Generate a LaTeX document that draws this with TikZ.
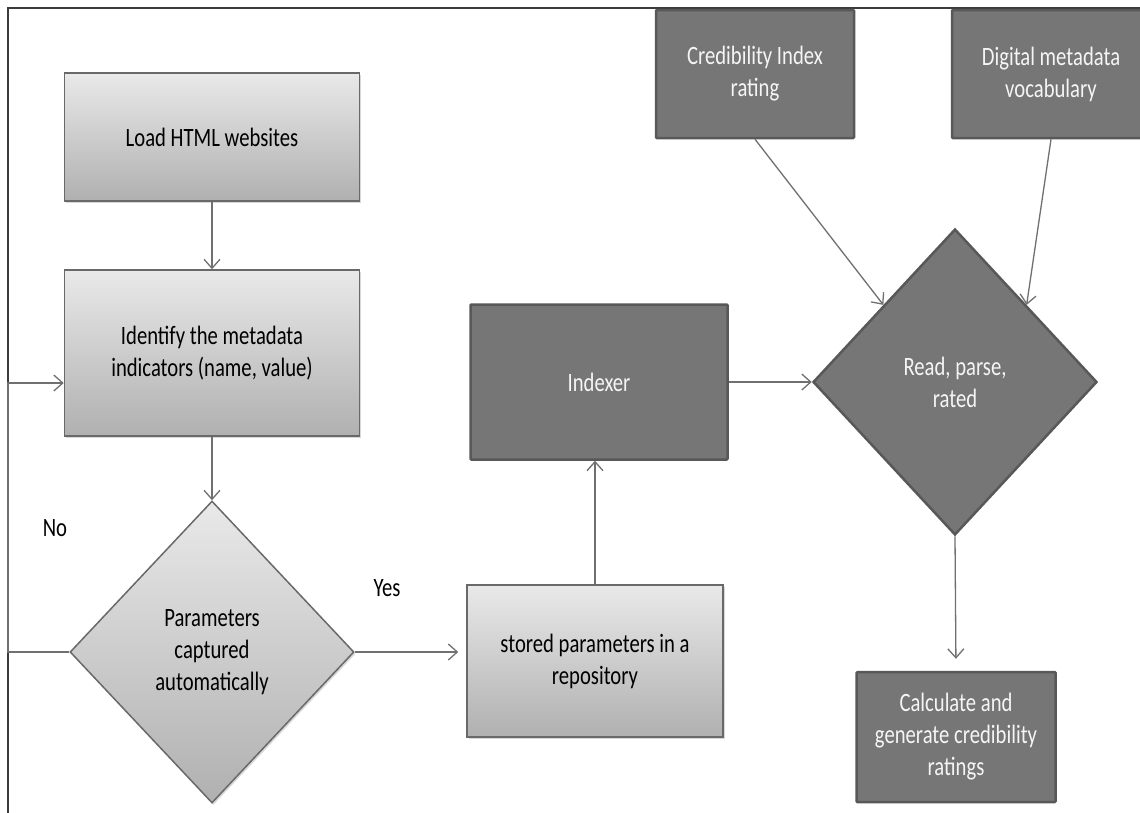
\documentclass[tikz,border=0pt]{standalone}
\usepackage{fontspec}
\setmainfont{Carlito}[FakeStretch=0.78]
\usetikzlibrary{arrows.meta}
\usetikzlibrary{shapes.geometric, shadows, positioning}
\definecolor{lighttop}{RGB}{233,233,233}
\definecolor{lightbot}{RGB}{176,176,176}
\definecolor{lightedge}{RGB}{105,105,105}
\definecolor{darkfill}{RGB}{118,118,118}
\definecolor{darkedge}{RGB}{88,88,88}
\definecolor{darktext}{RGB}{245,245,245}
\definecolor{linegray}{RGB}{112,112,112}
\definecolor{framegray}{RGB}{60,60,60}
\tikzset{
  >={Straight Barb[length=9pt,width=16pt,line width=1.3pt]},
  txt/.style={font=\fontsize{26.5}{32}\selectfont,align=center},
  stepbox/.style={txt,rectangle,draw=lightedge,line width=1.5pt,top color=lighttop,bottom color=lightbot,
    drop shadow={shadow xshift=1.5pt,shadow yshift=-2pt,opacity=0.3}},
  darkbox/.style={txt,rectangle,draw=darkedge,line width=2.5pt,fill=darkfill,text=darktext,rounded corners=1pt},
  lightdiam/.style={txt,diamond,inner sep=0,draw=lightedge,line width=1.5pt,top color=lighttop,bottom color=lightbot,
    drop shadow={shadow xshift=1.5pt,shadow yshift=-2pt,opacity=0.3}},
  darkdiam/.style={txt,diamond,inner sep=0,draw=darkedge,line width=2.5pt,fill=darkfill,text=darktext},
  connect/.style={->,line width=1.3pt,linegray},
  frame/.style={line width=1.6pt,framegray}
}
\begin{document}
\begin{tikzpicture}[x=1pt,y=-1pt]
  \clip (0,0) rectangle (1140,812);
  \fill[white] (0,0) rectangle (1140,812);
  \draw[frame] (8,8) rectangle (1170,840);

  % --- LEFT COLUMN ---
  \node[stepbox, minimum width=295pt, minimum height=128pt] (load) at (212,137) {Load HTML websites};
  \node[stepbox, minimum width=295pt, minimum height=166pt] (ident) at (212,353) {Identify the metadata\\indicators (name, value)};
  \node[lightdiam, minimum width=284pt, minimum height=302pt] (capt) at (212,652) {Parameters\\captured\\automatically};

  \draw[connect] (load) -- (ident);
  \draw[connect] (ident) -- (capt);

  % No: back to the indicators
  \coordinate (noturn) at (8,383);
  \draw[connect] (capt.west) -- (capt.west -| noturn) -- (noturn) -- (noturn -| ident.west);
  \node[txt] (no) at (55,528) {No};

  % --- MIDDLE ---
  \node[stepbox, minimum width=256pt, minimum height=152pt] (store) at (595,661) {stored parameters in a\\repository};
  \node[darkbox, minimum width=257pt, minimum height=155pt] (idx) at (599,382) {Indexer};

  \draw[connect, shorten >=8pt] (capt.east) -- (capt.east -| store.west);
  \node[txt] (yes) at (387,588) {Yes};
  \draw[connect] (store.north) -- (idx.south -| store.north);

  % --- RIGHT COLUMN ---
  \node[darkbox, minimum width=198pt, minimum height=128pt] (cred) at (755,74) {Credibility Index\\rating};
  \node[darkbox, minimum width=198pt, minimum height=128pt] (vocab) at (1051,74) {Digital metadata\\vocabulary};
  \node[darkdiam, minimum width=284pt, minimum height=306pt] (read) at (955,382) {Read, parse,\\rated};
  \node[darkbox, minimum width=199pt, minimum height=130pt] (calc) at (956,737) {Calculate and\\generate credibility\\ratings};

  \draw[connect] (idx.east) -- (read.west);
  \draw[connect] (cred.south) -- (read.north west);
  \draw[connect] (vocab.south) -- (read.north east);
  \draw[connect, shorten >=12pt] (read.south) -- (calc.north);
\end{tikzpicture}
\end{document}
